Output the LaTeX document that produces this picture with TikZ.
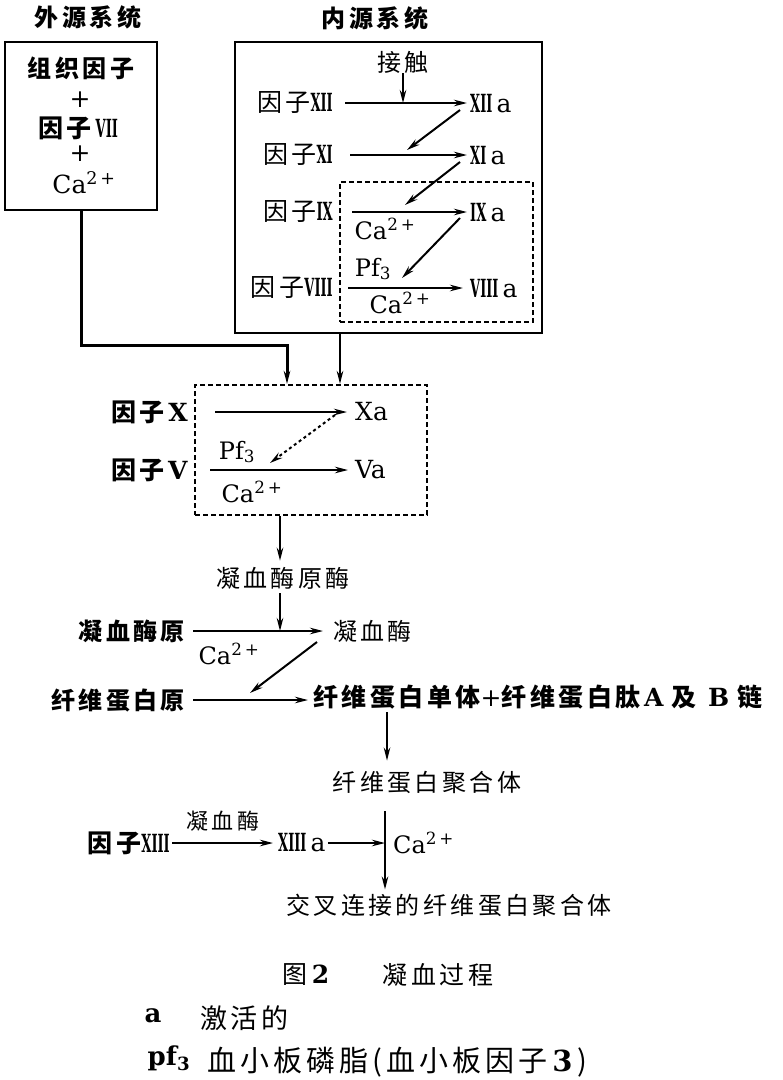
\documentclass[tikz,border=0pt]{standalone}
\usepackage{fontspec}
\usepackage{graphicx}
\setmainfont{DejaVu Serif}
\newfontfamily\cjkf[LetterSpace=14]{Noto Sans CJK SC}
\usetikzlibrary{arrows.meta,calc}
\newcommand\zh[1]{{\cjkf #1}}
\newcommand\rnum[1]{\scalebox{0.52}[1]{\bfseries #1}}
\newcommand\caa{Ca\textsuperscript{2\,+}}
\tikzset{
  zh/.style={inner sep=0pt, font=\fontsize{24}{26}\selectfont\cjkf},
  zhb/.style={inner sep=0pt, font=\fontsize{24}{26}\selectfont\cjkf\bfseries},
  lat/.style={inner sep=0pt, font=\fontsize{25}{27}\selectfont},
  sml/.style={inner sep=0pt, font=\fontsize{24}{26}\selectfont},
  arr/.style={line width=2pt, -{Stealth[length=13pt,width=6.5pt]}},
  frame/.style={draw, line width=2.6pt, inner sep=0pt},
  dbox/.style={draw, line width=2.2pt, dash pattern=on 5pt off 3pt, inner sep=0pt},
}
\begin{document}
\begin{tikzpicture}[x=1pt,y=-1pt]
\useasboundingbox (0,0) rectangle (783,1080);
\fill[white] (0,0) rectangle (783,1080);

% ---- titles
\node[zhb] (t1) at (88,17) {外源系统};
\node[zhb] (t2) at (375,18) {内源系统};

% ---- extrinsic box
\node[frame, minimum width=152pt, minimum height=168pt] (lbox) at (81,126) {};
\node[zhb] (l1) at (81,68) {组织因子};
\node[lat] (l2) at (80,100) {+};
\node[lat] (l3) at (78,128) {\zh{\bfseries 因子}\,\rnum{VII}};
\node[lat] (l4) at (80,154) {+};
\node[lat] (l5) at (84,183) {\caa};

% ---- intrinsic box
\node[frame, minimum width=307pt, minimum height=291pt] (rbox) at (388.5,187.5) {};
\node[dbox, minimum width=193pt, minimum height=140pt] (ibox) at (436.5,252) {};
\node[zh] (touch) at (403,62) {接触};
\node[lat, anchor=east] (f12) at (333,103) {\zh{因子}\rnum{XII}};
\node[lat, anchor=west] (f12a) at (470,104) {\rnum{XII}\,a};
\node[lat, anchor=east] (f11) at (333,155) {\zh{因子}\rnum{XI}};
\node[lat, anchor=west] (f11a) at (470,156) {\rnum{XI}\,a};
\node[lat, anchor=east] (f9) at (333,212) {\zh{因子}\rnum{IX}};
\node[lat, anchor=west] (f9a) at (470,213) {\rnum{IX}\,a};
\node[lat, anchor=east] (f8) at (333,288) {\zh{因子}\rnum{VIII}};
\node[lat, anchor=west] (f8a) at (470,289) {\rnum{VIII}\,a};
\node[sml] (ca9) at (385,229) {\caa};
\node[sml] (pf8) at (373,269) {Pf\textsubscript{3}};
\node[sml] (ca8) at (400,303) {\caa};

\draw[arr] (touch.south) -- (touch.south |- f12.east);
\draw[arr, shorten <=12pt, shorten >=3pt] (f12.east) -- (f12.east -| f12a.west);
\draw[arr, shorten <=17pt, shorten >=3pt] (f11.east) -- (f11.east -| f11a.west);
\draw[arr, shorten <=19pt, shorten >=3pt] (f9.east) -- (f9.east -| f9a.west);
\draw[arr, shorten <=15pt, shorten >=7pt] (f8.east) -- (f8.east -| f8a.west);
\draw[arr] ($(f12a.west)+(-10,6)$) -- ($(f11.east)+(74,-5)$);
\draw[arr] ($(f11a.west)+(-10,6)$) -- ($(f9.east)+(72,-7)$);
\draw[arr] ($(f9a.west)+(-10,5)$) -- ($(f8.east)+(69,-10)$);

% ---- factor X / V box
\node[dbox, minimum width=232pt, minimum height=130pt] (xbox) at (311,450) {};
\node[lat, anchor=east] (fX) at (188,412) {\zh{\bfseries 因子}\textbf{X}};
\node[lat, anchor=west] (Xa) at (355,412) {Xa};
\node[lat, anchor=east] (fV) at (188,470) {\zh{\bfseries 因子}\textbf{V}};
\node[lat, anchor=west] (Va) at (355,470) {Va};
\node[sml] (pfV) at (237,452) {Pf\textsubscript{3}};
\node[sml] (caV) at (252,492) {\caa};
\draw[arr, shorten <=27pt, shorten >=8pt] (fX.east) -- (fX.east -| Xa.west);
\draw[arr, shorten <=22pt, shorten >=7pt] (fV.east) -- (fV.east -| Va.west);
\draw[arr, dashed] ($(Xa.west)+(-20,3)$) -- ($(fV.east)+(82,-7)$);

% ---- joins into X box
\coordinate (j1) at (287,345);
\coordinate (r2) at (340,0);
\draw[arr, line width=3pt] (lbox.south) |- (j1) -- (j1 |- xbox.north);
\draw[arr] (rbox.south -| r2) -- (xbox.north -| r2);

% ---- prothrombin activator
\node[zh] (pta) at (283,578) {凝血酶原酶};
\coordinate (px) at (280,0);
\draw[arr] (xbox.south -| px) -- ($(pta.north -| px)+(0,-6)$);
\node[zhb, anchor=east] (pro) at (185,631) {凝血酶原};
\node[zh, anchor=west] (thr) at (333,631) {凝血酶};
\node[sml] (cap) at (229,654) {\caa};
\draw[arr, shorten <=8pt, shorten >=10pt] (pro.east) -- (pro.east -| thr.west);
\draw[arr] ($(pta.south -| px)+(0,4)$) -- (pro.east -| px);

% ---- fibrinogen
\node[zhb, anchor=east] (fbg) at (185,700) {纤维蛋白原};
\node[lat, anchor=west] (mono) at (313,697) {\zh{\bfseries 纤维蛋白单体}+\zh{\bfseries 纤维蛋白肽}\textbf{A} \zh{\bfseries 及} \textbf{B} \zh{\bfseries 链}};
\draw[arr, shorten <=8pt, shorten >=5pt] (fbg.east) -- (fbg.east -| mono.west);
\draw[arr] ($(thr.west)+(-16,11)$) -- ($(fbg.east)+(65,-7)$);

\node[zh] (poly) at (427,782) {纤维蛋白聚合体};
\coordinate (vx) at (387,0);
\draw[arr] ($(mono.south -| vx)+(0,3)$) -- ($(poly.north -| vx)+(0,-10)$);

% ---- factor XIII
\node[lat, anchor=east] (f13) at (170,843) {\zh{\bfseries 因子}\rnum{XIII}};
\node[zh, font=\fontsize{22}{24}\selectfont\cjkf] (thr2) at (223,821) {凝血酶};
\node[lat, anchor=west] (f13a) at (278,843) {\rnum{XIII}\,a};
\node[sml, anchor=west] (ca13) at (393,843) {\caa};
\node[zh] (cross) at (449,905) {交叉连接的纤维蛋白聚合体};
\coordinate (vx2) at (385,0);
\draw[arr, shorten <=2pt, shorten >=5pt] (f13.east) -- (f13.east -| f13a.west);
\draw[arr, shorten <=2pt] (f13a.east) -- (f13a.east -| vx2);
\draw[arr] ($(poly.south -| vx2)+(0,18)$) -- ($(cross.north -| vx2)+(0,-4)$);

% ---- caption and legend
\node[zh, font=\fontsize{25}{27}\selectfont\cjkf] (cap1) at (306,975) {图\,{\rmfamily\bfseries 2}};
\node[zh, font=\fontsize{25}{27}\selectfont\cjkf] (cap2) at (438,975) {凝血过程};
\node[lat, font=\fontsize{26}{28}\selectfont\bfseries] (lga) at (153,1016) {a};
\node[zh, font=\fontsize{27}{29}\selectfont\cjkf, anchor=west] (lgat) at (200,1018) {激活的};
\node[lat, font=\fontsize{26}{28}\selectfont\bfseries] (lgp) at (169,1058) {pf\textsubscript{3}};
\node[zh, font=\fontsize{29}{31}\selectfont\cjkf, anchor=west] (lgpt) at (207,1062) {血小板磷脂(血小板因子\,{\rmfamily\bfseries 3}\,)};
\end{tikzpicture}
\end{document}
